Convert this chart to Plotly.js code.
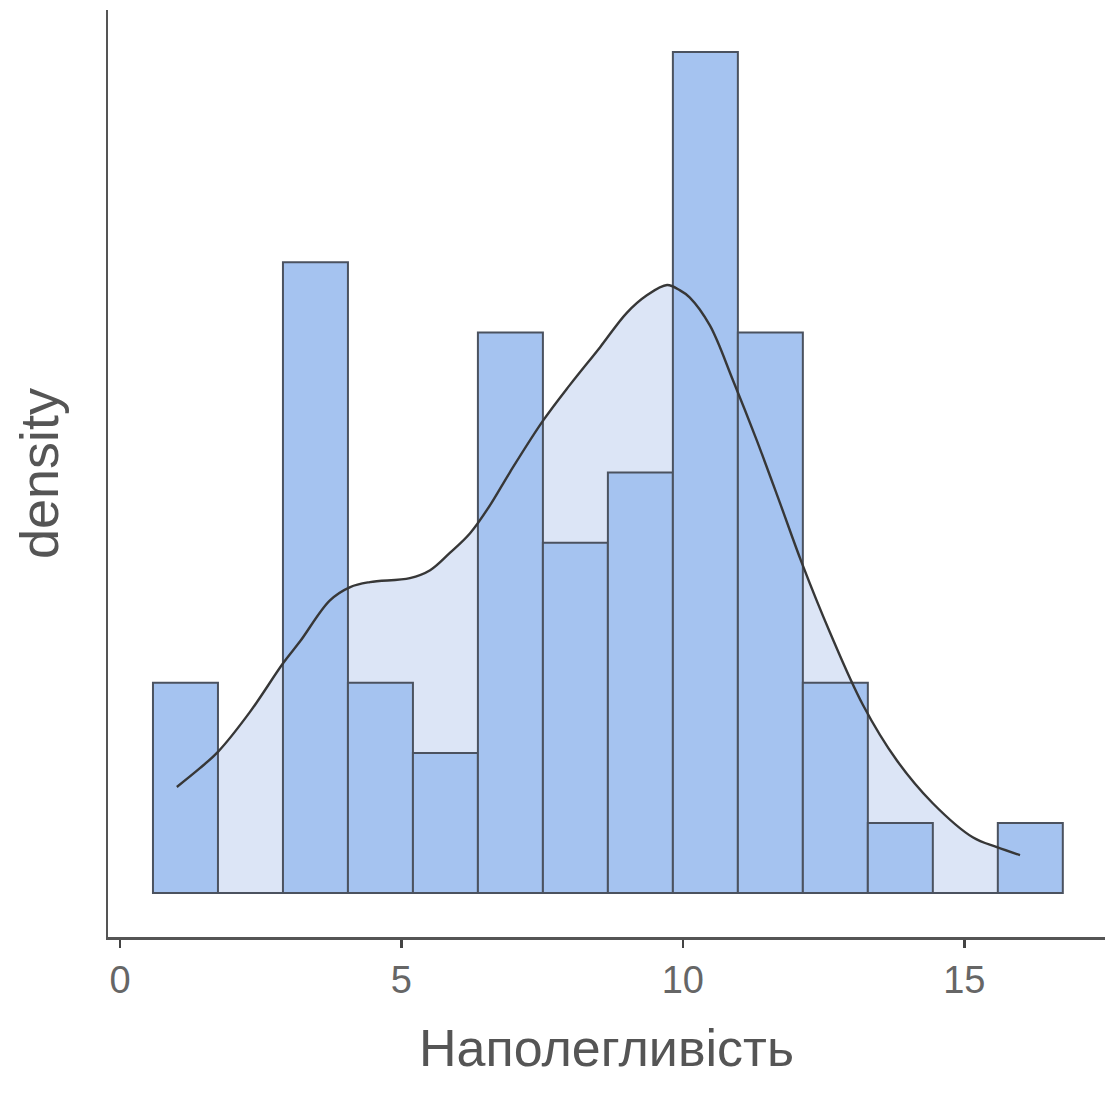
<!DOCTYPE html>
<html>
<head>
<meta charset="utf-8">
<script src="https://cdn.plot.ly/plotly-3.0.1.min.js"></script>
<style>html,body{margin:0;padding:0;background:#fff;}#chart{width:1108px;height:1097px;}</style>
</head>
<body>
<div id="chart"></div>
<script>
// Histogram data (counts per bin), bins of equal width
const binStart = 0.586;
const binWidth = 1.1546;
const counts = [3, 0, 9, 3, 2, 8, 5, 6, 12, 8, 3, 1, 0, 1];
const nObs = counts.reduce((a, b) => a + b, 0);

// Density curve
const curveX = [1.01, 1.42, 1.74, 2.31, 2.9, 3.2, 3.73, 4.09, 4.44, 5.15, 5.51, 5.86, 6.22, 6.57, 6.93, 7.51, 7.99, 8.53, 9.0, 9.36, 9.72, 9.95, 10.12, 10.48, 10.89, 11.31, 11.72, 12.11, 12.61, 13.2, 13.8, 14.44, 15.15, 15.58, 15.99];
const curveY = [0.0215, 0.0253, 0.0286, 0.0367, 0.0466, 0.051, 0.0593, 0.062, 0.063, 0.0638, 0.0654, 0.0689, 0.0729, 0.0785, 0.0853, 0.0956, 0.1029, 0.1106, 0.1175, 0.1211, 0.1232, 0.1221, 0.1207, 0.115, 0.1039, 0.0918, 0.0792, 0.067, 0.0529, 0.0381, 0.0269, 0.0182, 0.0113, 0.0093, 0.0077];

const xTicks = [0, 5, 10, 15];
const xTitle = 'Наполегливість';
const yTitle = 'density';

const centers = counts.map((c, i) => binStart + (i + 0.5) * binWidth);
const dens = counts.map(c => c / (nObs * binWidth));
const yRange = [-0.0089, 0.1789];

const traces = [
  {
    type: 'scatter', mode: 'lines', x: curveX, y: curveY, xaxis: 'x', yaxis: 'y',
    fill: 'tozeroy', fillcolor: 'rgb(220,229,246)',
    line: {color: 'rgba(0,0,0,0)', width: 0, shape: 'spline', smoothing: 1},
    hoverinfo: 'skip', showlegend: false
  },
  {
    type: 'bar', x: centers, y: dens, width: binWidth, xaxis: 'x', yaxis: 'y2',
    marker: {color: 'rgb(165,195,240)', line: {color: 'rgb(75,82,95)', width: 2}},
    showlegend: false
  },
  {
    type: 'scatter', mode: 'lines', x: curveX, y: curveY, xaxis: 'x', yaxis: 'y2',
    line: {color: 'rgb(55,55,55)', width: 2.4, shape: 'spline', smoothing: 1},
    showlegend: false
  }
];

const layout = {
  width: 1108, height: 1097,
  margin: {l: 108, r: 3, t: 10, b: 160},
  paper_bgcolor: '#fff', plot_bgcolor: 'rgba(0,0,0,0)',
  font: {family: 'Liberation Sans, Arial, sans-serif', color: '#555'},
  bargap: 0,
  xaxis: {
    range: [-0.213, 17.5], tickvals: xTicks, ticktext: xTicks.map(String),
    showgrid: false, zeroline: false, showline: true, linecolor: '#555', linewidth: 2.5,
    ticks: 'outside', ticklen: 8, tickwidth: 2.5, tickcolor: '#444',
    tickfont: {size: 38, color: '#666'},
    title: {text: xTitle, font: {size: 52, color: '#555'}, standoff: 30}
  },
  yaxis: {
    range: yRange, showticklabels: false, ticks: '',
    showgrid: false, zeroline: false, showline: true, linecolor: '#555', linewidth: 2.5,
    title: {text: yTitle, font: {size: 54, color: '#555'}, standoff: 30}
  },
  yaxis2: {
    range: yRange, overlaying: 'y', showticklabels: false, ticks: '',
    showgrid: false, zeroline: false, showline: false, visible: false
  },
  shapes: [{
    type: 'line', layer: 'above', xref: 'x', yref: 'y2',
    x0: binStart, x1: binStart + counts.length * binWidth, y0: 0, y1: 0,
    line: {color: 'rgb(75,82,95)', width: 2}
  }]
};

Plotly.newPlot('chart', traces, layout, {displayModeBar: false, staticPlot: true});
</script>
</body>
</html>
